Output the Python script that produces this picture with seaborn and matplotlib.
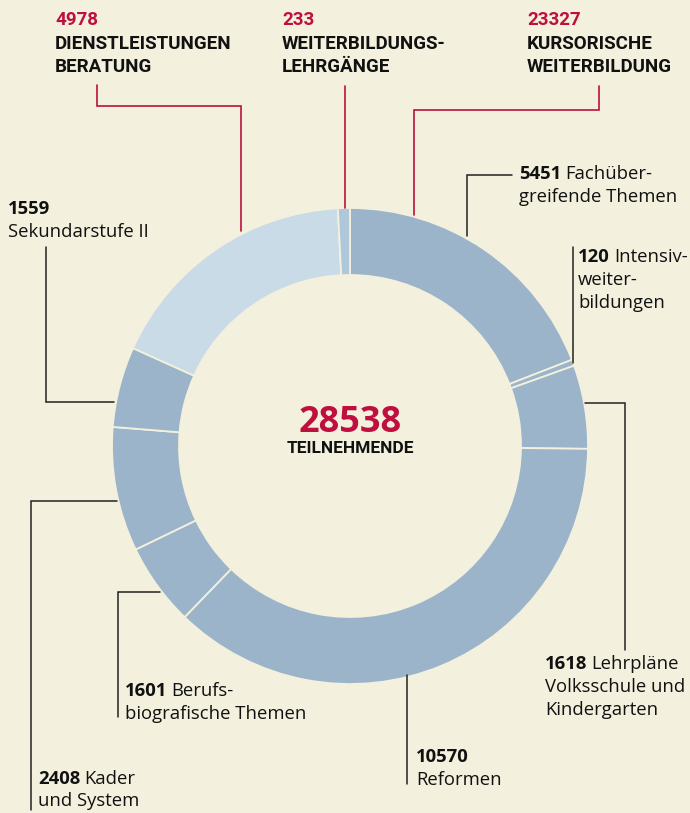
import numpy as np
import matplotlib
matplotlib.use("Agg")
import matplotlib.pyplot as plt
import seaborn as sns

# Daten: im Uhrzeigersinn ab 12 Uhr
werte = [5451, 120, 1618, 10570, 1601, 2408, 1559, 4978, 233]
bereiche = ["kurs", "kurs", "kurs", "kurs", "kurs", "kurs", "kurs", "dienst", "lehrgang"]
total = 28538

# obere Hauptkategorien
haupt_werte = ["4978", "233", "23327"]
haupt_namen = [["DIENSTLEISTUNGEN", "BERATUNG"], ["WEITERBILDUNGS-", "LEHRGÄNGE"],
               ["KURSORISCHE", "WEITERBILDUNG"]]

# Beschriftungen der Segmente (Zahl fett, Text normal)
seg_zahlen = ["5451", "120", "1618", "10570", "1601", "2408", "1559"]
seg_text1 = ["Fachüber-", "Intensiv-", "Lehrpläne", "", "Berufs-", "Kader", ""]
seg_rest = [["greifende Themen"], ["weiter-", "bildungen"], ["Volksschule und", "Kindergarten"],
            ["Reformen"], ["biografische Themen"], ["und System"], ["Sekundarstufe II"]]

BG = "#F3F0DD"
DUNKEL = "#9BB4CA"
HELL = "#C9DBE7"
MITTEL = "#AFC7DA"
ROT = "#BE0F3F"
farben = {"kurs": DUNKEL, "dienst": HELL, "lehrgang": MITTEL}

sns.set_style("white")
plt.rcParams["font.family"] = ["Open Sans", "DejaVu Sans"]
KOPF = ["Roboto", "DejaVu Sans"]

fig = plt.figure(figsize=(6.9, 8.13), dpi=100, facecolor=BG)
ax = fig.add_axes([0, 0, 1, 1])
ax.set_facecolor(BG)

# y-Achse wird invertiert -> "counterclock" in Daten = Uhrzeigersinn im Bild
ax.pie(werte, colors=[farben[b] for b in bereiche], startangle=-90, counterclock=True,
       center=(350, 446), radius=238,
       wedgeprops=dict(width=67, edgecolor=BG, linewidth=1.3))
ax.set_xlim(0, 690)
ax.set_ylim(813, 0)
ax.set_aspect("auto")
ax.axis("off")
renderer = fig.canvas.get_renderer()

# Zentrum
ax.text(350, 432, f"{total}", ha="center", va="baseline", fontsize=26, fontweight="bold", color=ROT)
ax.text(350, 453, "TEILNEHMENDE", ha="center", va="baseline", fontsize=12.5, fontweight="bold",
        color="#111111", family=KOPF)

# Hauptkategorien oben
haupt_x = [55, 282, 527]
for x, w, namen in zip(haupt_x, haupt_werte, haupt_namen):
    ax.text(x, 25, w, ha="left", va="baseline", fontsize=13.5, fontweight="bold", color=ROT,
            family=KOPF)
    for i, n in enumerate(namen):
        ax.text(x, 49 + 23 * i, n, ha="left", va="baseline", fontsize=13.5, fontweight="bold",
                color="#111111", family=KOPF)

# rote Führungslinien
rot_linien = [
    ([97, 97, 241, 241], [85, 106, 106, 231]),
    ([345, 345], [86, 208]),
    ([599, 599, 414, 414], [86, 110, 110, 215]),
]
for xs, ys in rot_linien:
    ax.plot(xs, ys, color=ROT, lw=1.2, solid_joinstyle="miter")

# schwarze Führungslinien
linien = [
    ([512, 467, 467], [175, 175, 236]),
    ([573, 573], [247, 363]),
    ([585, 625, 625], [403, 403, 650]),
    ([407, 407], [675, 784]),
    ([160, 118, 118], [592, 592, 717]),
    ([117, 31, 31], [501, 501, 810]),
    ([114, 46, 46], [402, 402, 247]),
]
for xs, ys in linien:
    ax.plot(xs, ys, color="#222222", lw=1.1, solid_joinstyle="miter")

# Segmentbeschriftungen (x, Grundlinie der ersten Zeile, Zeilenabstand)
pos = [(519, 179, 23), (578, 262, 23), (545, 669, 23), (416, 762, 23), (125, 696, 23),
       (38, 784, 21.5), (8, 214, 23)]
fs = 13.3
for (x, y, dz), z, t1, rest in zip(pos, seg_zahlen, seg_text1, seg_rest):
    zt = ax.text(x, y, z, ha="left", va="baseline", fontsize=fs, fontweight="bold", color="#111111")
    if t1:
        b = zt.get_window_extent(renderer)
        ax.text(x + b.width + 4, y, t1, ha="left", va="baseline", fontsize=fs, color="#111111")
    for i, r in enumerate(rest):
        ax.text(x, y + dz * (i + 1), r, ha="left", va="baseline", fontsize=fs, color="#111111")

fig.savefig("out.png", dpi=100, facecolor=BG)
